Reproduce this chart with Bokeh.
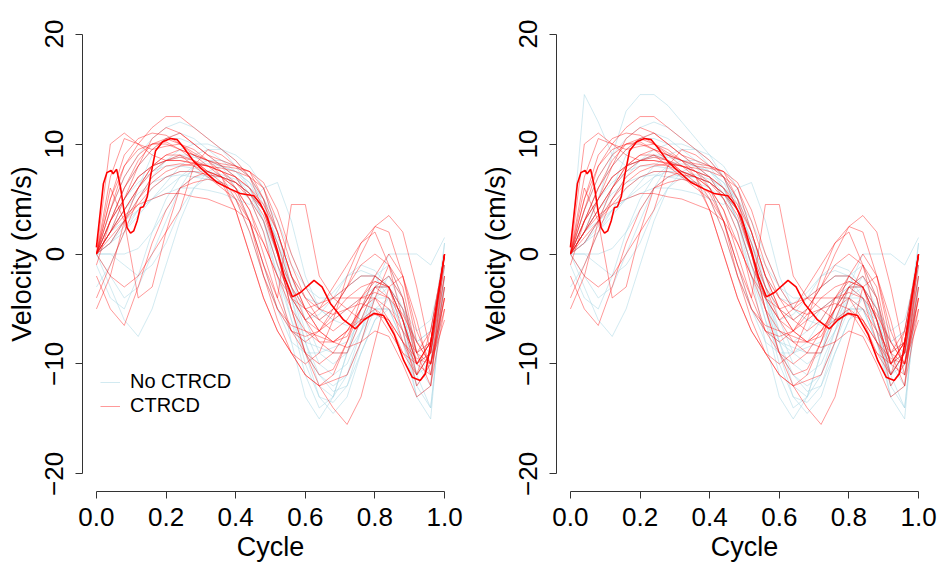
from bokeh.plotting import figure
from bokeh.models import FixedTicker, Legend, LegendItem
from bokeh.layouts import row
from bokeh.embed import file_html
from bokeh.resources import INLINE

# ---------------- data ----------------
cycle = [0.00, 0.04, 0.08, 0.12, 0.16, 0.20, 0.24, 0.28, 0.32, 0.36, 0.40, 0.44, 0.48,
         0.52, 0.56, 0.60, 0.64, 0.68, 0.72, 0.76, 0.80, 0.84, 0.88, 0.92, 0.96, 1.00]

no_ctrcd = [
    [0, 2, 4, 6, 7.5, 8.5, 9, 9, 8.5, 8, 7, 5.5, 3, -1, -6, -11, -14, -13, -9, -5, -2, -1, -4, -10, -12, -2],
    [0, 3, 6, 8, 9.5, 10.5, 11, 10.5, 9.5, 8.5, 7.5, 6, 3, -2, -8, -13, -15, -13, -9, -5, -3, -3, -6, -11, -10, 0],
    [0, -3, -6, -7.5, -5, -1, 3, 6, 7.5, 8, 6, 3, -1, -5, -8, -9, -9, -8.5, -8, -6, -4, -4, -7, -13, -15, -1],
    [0, 1, 3, 5, 7, 8.5, 9.5, 10, 10, 9.5, 8.5, 7, 4.5, 0, -5, -10, -13, -13.5, -12, -8, -4, -2, -4, -9, -11, 1],
    [0, 4, 7, 9, 10.5, 11.5, 12, 11.5, 10.5, 9.5, 8, 6, 3, -1, -4, -6, -5.5, -4, -2, -1, -1.5, -3, -6, -10, -9, 0],
    [-3, -1, 2, 4, 6, 7, 7.5, 7.5, 7, 6.5, 6, 5, 3, 0, -3, -5, -6, -5, -3, -2, -2, -3, -5, -8, -7, -1],
    [0, 2, 4, 5.5, 6.5, 7, 7.2, 7, 6.8, 6.5, 5, 2, -2, -5, -7, -8, -8.5, -9, -9, -7, -5, -5, -8, -12, -10, 0],
    [0, 1, 2.5, 4, 5, 5.5, 6, 6, 5.8, 5.5, 5, 4.5, 6, 6.5, 3, -2, -5, -6, -5, -4, -3, -3, -5, -8, -7, 0],
    [0, 0, 0, 0.5, 2, 4, 6, 7, 7.2, 7, 6.5, 5.5, 4, 1, -3, -7, -10, -11, -10, -7, -3, 0, 0, 0, -1, 1.5],
    [0, 2, 5, 7, 8, 8.5, 8.8, 8.8, 8.5, 8, 7.5, 6.5, 5, 2, -2, -6, -9, -10, -9, -6, -3, -2, -5, -11, -14, -3],
    [0, 3, 5, 6.5, 7.5, 8, 8, 7.8, 7.5, 7, 6.5, 5.5, 4, 1, -2, -4, -4.5, -3.5, -2, -1.5, -2, -4, -7, -11, -9, 0],
    [-1, -4, -5, -2, 2, 5, 7, 8, 8.2, 8, 7.5, 6.5, 4, 0, -4, -8, -11, -12.5, -12, -9, -6, -4, -6, -10, -9, 0],
    [0, 2, 3, 4, 5, 6, 7, 7.5, 7.5, 7.2, 6.8, 6, 5, 3, 0, -3, -5, -6, -6.5, -6, -5, -5, -6, -8, -9, -3],
    [0, 1, 3, 6, 9, 10.5, 10.5, 10, 9, 8, 7, 5, 2, -2, -6, -9, -11, -12, -11, -8, -5, -4, -6, -9, -8, 1],
    [0, 0, -1, -2, -1, 1, 4, 6, 7, 7, 6.5, 5.5, 4, 1.5, -1, -3, -4, -4, -3, -2, -2, -3, -5, -7, -6, -1],
    [0, -2, -4, -3, 0, 3, 6, 8, 8.5, 8.5, 8, 7, 5, 1, -4, -9, -13, -14.5, -13, -9, -6, -5, -8, -13, -12, 0],
    [0, 1, 2, 3.5, 5, 6.5, 8, 9, 9.5, 9.5, 9, 8, 6, 2, -3, -8, -12, -13, -11, -7, -4, -3, -6, -12, -14, -2],
]

no_ctrcd_extra = [
    [0, 14.5, 12, 9, 8, 8.5, 9, 8.5, 8, 7.5, 7, 6, 3, -1, -5, -8, -9, -8, -6, -4, -3, -4, -7, -11, -9, 0],
    [0, 2, 5, 9, 13, 14.5, 14.5, 13.5, 12, 10.5, 9, 7, 4, 0, -4, -7, -8, -7, -5, -4, -4, -5, -8, -11, -9, 0],
]

ctrcd = [
    [0, 5, 9, 10.5, 11, 10.8, 10, 9.2, 8.5, 8, 7.8, 7.5, 6, 2, -2, -4, -5, -4, -3, -2, -2, -3, -6, -10, -8, 0],
    [0, 3, 6, 8, 9.5, 10.5, 11, 10, 9, 8, 7, 5, 2, -3, -7, -9, -10, -9, -7, -5, -4, -6, -9, -11, -7, 0],
    [-5, -2, 3, 6, 8, 9, 9.5, 9, 8.5, 7, 4, 0, -4, -7, -9, -11, -12, -11, -8, -4, -2, -3, -7, -12, -10, -5],
    [0, 2, 4, 6, 7.5, 8.5, 9, 8.5, 7.5, 6.5, 5.5, 3, -2, -6, -9, -10, -9, -6, -2, 1, 2, -1, -6, -10, -8, 0],
    [0, 10, 11, 10, 9.5, 9.8, 10, 9.5, 8.5, 7.5, 6.5, 5, 3, -1, -4, -6, -7, -6, -5, -4.5, -5, -7, -9, -10, -8, 0],
    [0, 6, 3, -4, -3, 2, 6, 7, 7.5, 7, 6.5, 5.5, 4, 1, -3, -6, -8, -9, -9, -6, -3, -4, -8, -11, -9, 0],
    [-2, -5, -6.5, -3, 1, 4, 6, 6.5, 6.8, 6.5, 4, 0, -4, -7, -9, -11, -12, -11.5, -11, -8, -4, -1, -3, -9, -10, -4],
    [0, 4, 7, 9, 10, 10.2, 9.5, 8.5, 7.5, 7, 6.5, 5.5, 3.5, 0, -4, -6, -5, -3, -1, 1, 2.5, 2, -2, -8, -10, -2],
    [0, 1, 3, 5, 6.5, 7.5, 8, 8.2, 8, 7.5, 7, 6, 4, 0, -5, -9, -12, -14, -15.5, -13, -8, -3, -2, -6, -11, -4],
    [0, 2, 4, 6, 8, 9, 9, 8, 7, 6, 5, 3, -1, -4, 4.5, 4.5, -2, -4, -5, -6, -5, -6, -8, -10, -8, 0],
    [0, 3, 5, 7, 8, 8.5, 8.8, 8.5, 8, 7.5, 7, 6, 4.5, 2, -2, -5, -6, -5, -3, 0, 2.5, 3.5, 2, -3, -9, -1],
    [0, 2, 3.5, 4.5, 5, 5.5, 5.5, 5.2, 5, 4.5, 4, 3, 1, -2, -5, -7, -8, -8, -7, -6, -5.5, -6, -8, -9.5, -10, -6],
    [0, 4, 8, 10, 11.5, 12.5, 12.5, 11.5, 10.5, 9.5, 8.5, 7, 4, 0, -3, -5, -7, -8, -7.5, -5, -2, 0, -2, -7, -10, -3],
    [0, 1.5, 3, 4.5, 6, 7, 7.5, 7.5, 7.2, 7, 5, 2, -2, -5, -6.5, -7, -7.5, -8, -8.5, -8, -7, -7.5, -10, -13, -12, 0],
    [-1, 3, 6, 8.5, 10, 10, 9.5, 9, 8.5, 8.2, 8, 7.5, 5, 0, -5, -9, -11, -10.5, -8, -5, -3, -2, -4, -10, -9, -2],
    [0, 3, 5, 7, 8, 8.5, 8.5, 8.3, 8, 7.5, 6, 3, -1, -5, -7, -7.5, -7, -5, -3, -1, 0, -1, -4, -9, -12, -5],
    [-4, -1, 2, 5, 7, 8, 8.2, 8, 7.5, 7, 6, 4, 0, -4, -7, -8, -7, -5.5, -4, -3, -2.5, -3, -6, -11, -9, 0],
    [0, 5, 8, 9.5, 10, 10.5, 10, 9, 8, 7, 6, 4, 1, -2, -4, -5, -4.5, -4, -4, -4, -4, -5, -7, -9, -7, 0],
    [0, -2, -3, -2, 0, 2, 4, 8, 9.5, 9, 8, 7, 5, 2, -2, -5, -7, -8, -7, -5, -3, -3, -5, -9, -8, 0],
    [0, 7, 10.5, 10, 9, 8.5, 8.5, 8.2, 8, 7.8, 7.5, 7, 6, 3, -1, -4, -6, -7, -6, -4, -2.5, -3, -6, -10, -11, -3],
    [0, 2, 5, 8, 10.5, 11.5, 11, 10, 9, 8.5, 8, 7.5, 6.5, 4, 0, -3, -5, -5.5, -5, -4, -3.5, -4, -5.5, -8, -10, -4],
]

bold_x = [0, 0.02, 0.03, 0.042, 0.048, 0.058, 0.069, 0.079, 0.088, 0.098, 0.107, 0.117,
          0.126, 0.135, 0.146, 0.155, 0.17, 0.19, 0.213, 0.232, 0.25, 0.28, 0.307, 0.347,
          0.385, 0.413, 0.452, 0.47, 0.49, 0.5, 0.52, 0.54, 0.563, 0.586, 0.625, 0.648,
          0.672, 0.71, 0.744, 0.768, 0.797, 0.825, 0.855, 0.883, 0.907, 0.93, 0.945, 0.968,
          1.0]
bold_y = [0.6, 6.4, 7.4, 7.6, 7.3, 7.7, 6.1, 4.0, 2.4, 1.9, 2.1, 3.0, 4.2, 4.3, 5.2, 7.0,
          9.4, 10.2, 10.5, 10.4, 9.7, 8.4, 7.6, 6.5, 5.9, 5.5, 5.3, 4.6, 3.4, 2.4, 0.3, -2.1,
          -3.9, -3.5, -2.4, -3.0, -4.5, -6.0, -6.8, -6.0, -5.4, -5.6, -7.3, -9.7, -11.2,
          -11.5, -10.9, -6.7, 0]

x_ticks = [0.0, 0.2, 0.4, 0.6, 0.8, 1.0]
x_tick_labels = ["0.0", "0.2", "0.4", "0.6", "0.8", "1.0"]
y_ticks = [-20, -10, 0, 10, 20]
y_tick_labels = ["\u221220", "\u221210", "0", "10", "20"]
legend_labels = ["No CTRCD", "CTRCD"]

BLUE = "#ADD8E6"
RED = "#FF0000"
FONT = "Liberation Sans"


def make_panel(width, border_left, border_right, blue_sets, show_legend):
    p = figure(width=width, height=570, x_range=(-0.04, 1.04), y_range=(-21.6, 21.6),
               output_backend="svg", toolbar_location=None,
               min_border_left=border_left, min_border_right=border_right,
               min_border_top=16, min_border_bottom=79)
    p.outline_line_color = None
    p.grid.visible = False
    p.background_fill_color = "white"
    p.border_fill_color = "white"

    blue_r = None
    for ys in blue_sets:
        r = p.line(cycle, ys, line_color=BLUE, line_alpha=0.55, line_width=1)
        if blue_r is None:
            blue_r = r
    red_r = None
    for ys in ctrcd:
        r = p.line(cycle, ys, line_color=RED, line_alpha=0.4, line_width=1)
        if red_r is None:
            red_r = r
    p.line(bold_x, bold_y, line_color=RED, line_width=1.6)

    for ax in (p.xaxis[0], p.yaxis[0]):
        ax.axis_line_color = "#333333"
        ax.major_tick_line_color = "#333333"
        ax.minor_tick_line_color = None
        ax.major_tick_out = 7
        ax.major_tick_in = 0
        ax.major_label_text_font = FONT
        ax.major_label_text_font_size = "26px"
        ax.major_label_text_color = "black"
        ax.axis_label_text_font = FONT
        ax.axis_label_text_font_size = "27px"
        ax.axis_label_text_font_style = "normal"
        ax.axis_label_text_color = "black"

    p.xaxis.ticker = FixedTicker(ticks=x_ticks)
    p.xaxis.major_label_overrides = dict(zip(x_ticks, x_tick_labels))
    p.xaxis.bounds = (x_ticks[0], x_ticks[-1])
    p.xaxis.axis_label = "Cycle"
    p.xaxis.major_label_standoff = 9
    p.xaxis.axis_label_standoff = 3

    p.yaxis.ticker = FixedTicker(ticks=y_ticks)
    p.yaxis.major_label_overrides = dict(zip(y_ticks, y_tick_labels))
    p.yaxis.bounds = (y_ticks[0], y_ticks[-1])
    p.yaxis.axis_label = "Velocity (cm/s)"
    p.yaxis.major_label_orientation = "vertical"
    p.yaxis.major_label_standoff = 12
    p.yaxis.axis_label_standoff = 6

    if show_legend:
        leg = Legend(items=[LegendItem(label=legend_labels[0], renderers=[blue_r]),
                            LegendItem(label=legend_labels[1], renderers=[red_r])],
                     location=(18, 74), label_text_font=FONT, label_text_font_size="20px",
                     label_text_color="black",
                     glyph_width=20, glyph_height=20, label_height=20, label_standoff=10,
                     spacing=1, padding=0, margin=0, border_line_color=None,
                     background_fill_alpha=0)
        p.add_layout(leg, "center")
    return p


p1 = make_panel(474, 82, 16, no_ctrcd, True)
p2 = make_panel(470, 82, 12, no_ctrcd + no_ctrcd_extra, False)
layout = row(p1, p2)

open("out.html", "w").write(file_html(layout, INLINE))
